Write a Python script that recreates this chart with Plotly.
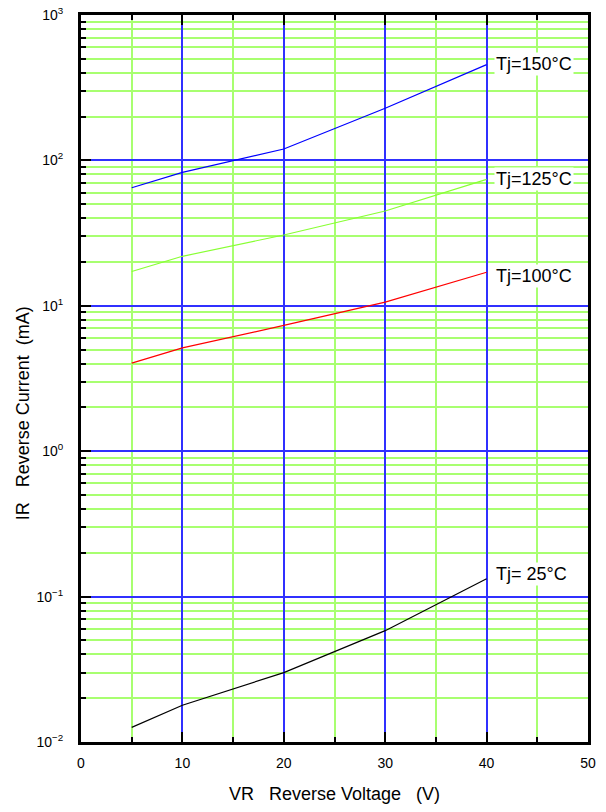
import math
import plotly.graph_objects as go

# ---- data ----
vr = [5, 10, 20, 30, 40]
ir_150 = [64.9, 82.8, 119.7, 228.6, 456.0]
ir_125 = [17.2, 21.9, 30.7, 44.9, 74.1]
ir_100 = [4.03, 5.13, 7.33, 10.6, 17.0]
ir_25 = [0.0126, 0.0179, 0.030, 0.0583, 0.1325]

series_names = ["Tj=150°C", "Tj=125°C", "Tj=100°C", "Tj= 25°C"]
series_vals = [ir_150, ir_125, ir_100, ir_25]
series_colors = ["#0000FF", "#88FF33", "#FF0000", "#000000"]
label_yshift = [1, 0, -4, 5]

x_ticks = [0, 10, 20, 30, 40, 50]
x_minor = [5, 15, 25, 35, 45]
y_tickvals = [0.01, 0.1, 1, 10, 100, 1000]
y_ticktext = ["10<sup>−2</sup>", "10<sup>−1</sup>", "10<sup>0</sup>",
              "10<sup>1</sup>", "10<sup>2</sup>", "10<sup>3</sup>"]
y_minor = [m * d for d in y_tickvals[:-1] for m in range(2, 10)]

FONT = "Arial, Liberation Sans, sans-serif"
BLUE = "#3030FF"
GREEN = "#A8FF70"
GRID_W = 1.5

fig = go.Figure()
for name, vals, col, ys in zip(series_names, series_vals, series_colors, label_yshift):
    fig.add_trace(go.Scatter(x=vr, y=vals, mode="lines", name=name,
                             line=dict(color=col, width=1.2), showlegend=False))
    fig.add_annotation(x=vr[-1], y=math.log10(vals[-1]), xref="x", yref="y",
                       text=name, showarrow=False, xanchor="left", yanchor="middle",
                       xshift=7, yshift=ys, bgcolor="white", borderpad=1,
                       font=dict(family=FONT, size=18, color="black"))

fig.add_annotation(xref="paper", yref="paper", x=-0.114, y=0.4525,
                   text="IR\u00a0\u00a0\u00a0Reverse Current\u00a0\u00a0(mA)",
                   textangle=-90, showarrow=False, xanchor="center", yanchor="middle",
                   font=dict(family=FONT, size=18, color="black"))

fig.update_xaxes(range=[0, 50], tickmode="array", tickvals=x_ticks, ticks="inside",
                 ticklen=10, tickwidth=2, tickcolor="black", showline=True, linewidth=3,
                 linecolor="black", mirror="ticks", showgrid=True, gridcolor=BLUE,
                 gridwidth=GRID_W, zeroline=False, automargin=False,
                 tickfont=dict(family=FONT, size=14, color="black"), ticklabelstandoff=6,
                 minor=dict(tickmode="array", tickvals=x_minor, ticks="inside", ticklen=5,
                            tickwidth=2, tickcolor="black", showgrid=True,
                            gridcolor=GREEN, gridwidth=GRID_W),
                 title=dict(text="VR\u00a0\u00a0\u00a0Reverse Voltage\u00a0\u00a0\u00a0(V)",
                            font=dict(family=FONT, size=18, color="black"), standoff=18))

fig.update_yaxes(type="log", range=[-2, 3], tickmode="array", tickvals=y_tickvals,
                 ticktext=y_ticktext, ticks="inside", ticklen=10, tickwidth=2,
                 tickcolor="black", showline=True, linewidth=3, linecolor="black",
                 mirror=True, showgrid=True, gridcolor=BLUE, gridwidth=GRID_W, zeroline=False,
                 automargin=False,
                 tickfont=dict(family=FONT, size=14, color="black"), ticklabelstandoff=12,
                 minor=dict(tickmode="array", tickvals=y_minor, ticks="inside", ticklen=5,
                            tickwidth=2, tickcolor="black", showgrid=True,
                            gridcolor=GREEN, gridwidth=GRID_W))

fig.update_layout(width=606, height=812, margin=dict(l=81, r=18, t=15, b=70),
                  plot_bgcolor="white", paper_bgcolor="white",
                  font=dict(family=FONT, color="black"))

fig.write_html("out.html", config={"displayModeBar": False},
               post_script="document.body.style.margin='0px';")
